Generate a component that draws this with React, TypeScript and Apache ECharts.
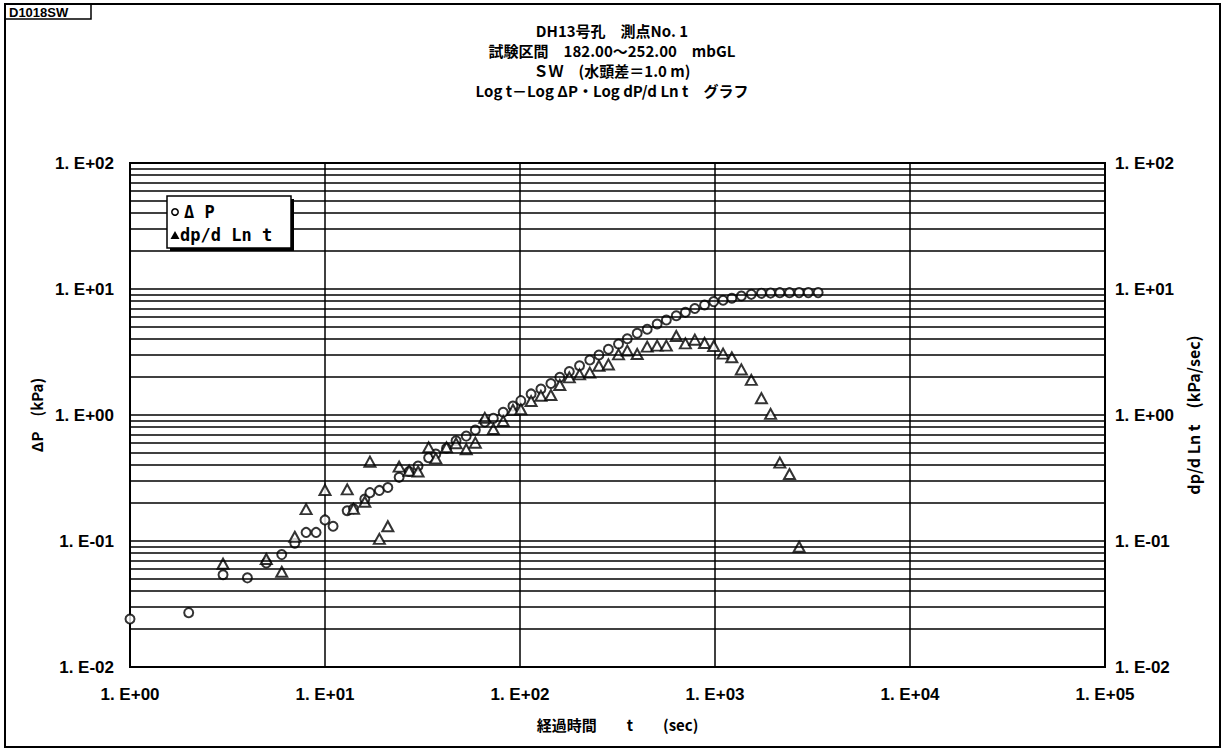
import React, { useEffect, useRef } from "react";
import * as echarts from "echarts";

const timesDP = [1, 2, 3, 4, 5, 6, 7, 8, 9, 10, 11, 13, 14, 16, 17, 19, 21, 24, 27, 30, 34, 37, 42, 47, 53, 59, 66, 73, 82, 92, 101, 114, 128, 144, 160, 179, 202, 228, 254, 284, 320, 355, 399, 449, 505, 563, 633, 705, 788, 884, 985, 1100, 1220, 1365, 1535, 1730, 1928, 2150, 2410, 2700, 3010, 3380];
const deltaP = [0.024, 0.027, 0.054, 0.051, 0.067, 0.078, 0.096, 0.117, 0.117, 0.147, 0.131, 0.174, 0.18, 0.215, 0.242, 0.252, 0.266, 0.32, 0.356, 0.394, 0.458, 0.49, 0.544, 0.625, 0.68, 0.76, 0.88, 0.94, 1.05, 1.18, 1.3, 1.47, 1.61, 1.78, 1.99, 2.21, 2.46, 2.73, 2.99, 3.32, 3.66, 4.03, 4.45, 4.79, 5.28, 5.67, 6.14, 6.53, 7.0, 7.46, 7.94, 8.15, 8.44, 8.79, 9.07, 9.24, 9.28, 9.35, 9.35, 9.36, 9.36, 9.36];

const timesDer = [3, 5, 6, 7, 8, 10, 13, 14, 16, 17, 19, 21, 24, 27, 30, 34, 37, 42, 47, 53, 59, 66, 73, 82, 92, 101, 114, 128, 144, 160, 179, 202, 228, 254, 284, 320, 355, 399, 449, 505, 563, 633, 705, 788, 884, 985, 1100, 1220, 1365, 1535, 1730, 1928, 2150, 2410, 2700];
const derivative = [0.066, 0.072, 0.057, 0.108, 0.179, 0.254, 0.257, 0.18, 0.205, 0.426, 0.104, 0.131, 0.389, 0.361, 0.356, 0.554, 0.453, 0.554, 0.596, 0.535, 0.603, 0.95, 0.774, 0.896, 1.1, 1.11, 1.29, 1.42, 1.44, 1.73, 1.99, 2.1, 2.17, 2.46, 2.52, 3.03, 3.24, 3.05, 3.49, 3.55, 3.55, 4.24, 3.7, 3.96, 3.73, 3.53, 3.07, 2.87, 2.3, 1.9, 1.36, 1.02, 0.419, 0.34, 0.09];

const titleLines = [
  "DH13号孔　測点No. 1",
  "試験区間　182.00～252.00　mbGL",
  "ＳＷ　(水頭差＝1.0 m)",
  "Log t－Log ΔP・Log dP/d Ln t　グラフ",
];
const cornerLabel = "D1018SW";
const legendNames = ["Δ P", "dp/d Ln t"];
const xAxisName = "経過時間　　t　　(sec)";
const yLeftName = "ΔP　(kPa)";
const yRightName = "dp/d Ln t　(kPa/sec)";
const minorMultipliers = [2, 3, 4, 5, 6, 7, 8, 9];
const decadeStarts = [0.01, 0.1, 1, 10];

const JP = '"Noto Sans CJK JP", "Noto Sans", sans-serif';
const NUM = '"Liberation Sans Narrow", "Liberation Sans", Arial, sans-serif';
const MONO = '"DejaVu Sans Mono", "Liberation Mono", monospace';

export default function App() {
  const ref = useRef<HTMLDivElement>(null);
  useEffect(() => {
    document.body.style.margin = "0";
    const chart = echarts.init(ref.current as HTMLDivElement, null, { renderer: "svg" });
    const fmt = (v: number) => {
      const e = Math.round(Math.log10(v));
      return "1. E" + (e < 0 ? "-" : "+") + String(Math.abs(e)).padStart(2, "0");
    };
    const minorLines: any[] = [];
    decadeStarts.forEach((d) =>
      minorMultipliers.forEach((m) => minorLines.push({ yAxis: Number((d * m).toPrecision(3)) }))
    );
    const axisLabel = { formatter: fmt, color: "#000", fontSize: 17, fontWeight: "bold" as const, fontFamily: NUM };
    const nameStyle = { color: "#000", fontSize: 15, fontWeight: "bold" as const, fontFamily: JP };
    const gridLine = { color: "#000", width: 1.5 };
    const option: any = {
      animation: false,
      backgroundColor: "#fff",
      grid: { left: 130, right: 122, top: 163, bottom: 83, show: true, borderColor: "#000", borderWidth: 2, backgroundColor: "transparent" },
      xAxis: {
        type: "log", logBase: 10, min: 1, max: 100000,
        name: xAxisName, nameLocation: "middle", nameGap: 50, nameTextStyle: nameStyle,
        axisLine: { show: true, lineStyle: { color: "#000", width: 2 } },
        axisTick: { show: false },
        axisLabel: { ...axisLabel, margin: 19 },
        splitLine: { show: true, lineStyle: gridLine },
      },
      yAxis: [
        {
          type: "log", logBase: 10, min: 0.01, max: 100, position: "left",
          name: yLeftName, nameLocation: "middle", nameRotate: 90, nameGap: 84, nameTextStyle: nameStyle,
          axisLine: { show: true, lineStyle: { color: "#000", width: 2 } },
          axisTick: { show: false },
          axisLabel: { ...axisLabel, margin: 16 },
          splitLine: { show: true, lineStyle: gridLine },
        },
        {
          type: "log", logBase: 10, min: 0.01, max: 100, position: "right",
          name: yRightName, nameLocation: "middle", nameRotate: 90, nameGap: 80, nameTextStyle: { ...nameStyle, fontSize: 16 },
          axisLine: { show: true, lineStyle: { color: "#000", width: 2 } },
          axisTick: { show: false },
          axisLabel: { ...axisLabel, margin: 10 },
          splitLine: { show: false },
        },
      ],
      series: [
        {
          type: "line", data: [], z: 1, silent: true,
          markLine: {
            silent: true, symbol: "none", label: { show: false },
            lineStyle: { color: "#000", width: 1.5, type: "solid" },
            data: minorLines,
          },
        },
        {
          name: "ΔP", type: "scatter", z: 3,
          data: timesDP.map((t, i) => [t, deltaP[i]]),
          symbol: "circle", symbolSize: 9,
          itemStyle: { color: "#fff", borderColor: "#000", borderWidth: 2 },
        },
        {
          name: "dp/d Ln t", type: "scatter", z: 4, yAxisIndex: 1,
          data: timesDer.map((t, i) => [t, derivative[i]]),
          symbol: "triangle", symbolSize: [11, 10],
          itemStyle: { color: "#fff", borderColor: "#000", borderWidth: 2 },
        },
      ],
      graphic: [
        { type: "rect", shape: { x: 5, y: 4, width: 1215, height: 743 }, style: { fill: "none", stroke: "#000", lineWidth: 2 }, z: 10 },
        { type: "rect", shape: { x: 5, y: 4, width: 86, height: 15 }, style: { fill: "none", stroke: "#000", lineWidth: 1.5 }, z: 10 },
        { type: "text", x: 9, y: 12, style: { text: cornerLabel, fill: "#000", font: `bold 13px ${NUM}`, verticalAlign: "middle" }, z: 10 },
        ...titleLines.map((t, i) => ({
          type: "text", x: 612, y: 30 + i * 20,
          style: { text: t, fill: "#000", font: `bold 15px ${JP}`, align: "center", verticalAlign: "middle" }, z: 10,
        })),
        { type: "rect", shape: { x: 170, y: 199, width: 124, height: 52 }, style: { fill: "#000" }, z: 20 },
        { type: "rect", shape: { x: 167, y: 196, width: 124, height: 52 }, style: { fill: "#fff", stroke: "#000", lineWidth: 1.5 }, z: 21 },
        { type: "circle", shape: { cx: 175, cy: 212, r: 3.2 }, style: { fill: "#fff", stroke: "#000", lineWidth: 1.5 }, z: 22 },
        { type: "text", x: 184, y: 212, style: { text: legendNames[0], fill: "#000", font: `bold 17px ${MONO}`, verticalAlign: "middle" }, z: 22 },
        { type: "polygon", shape: { points: [[175, 231], [170.5, 239], [179.5, 239]] }, style: { fill: "#000" }, z: 22 },
        { type: "text", x: 180, y: 235, style: { text: legendNames[1], fill: "#000", font: `bold 17px ${MONO}`, verticalAlign: "middle" }, z: 22 },
      ],
    };
    chart.setOption(option);
    return () => chart.dispose();
  }, []);
  return <div ref={ref} style={{ width: 1227, height: 750 }} />;
}
